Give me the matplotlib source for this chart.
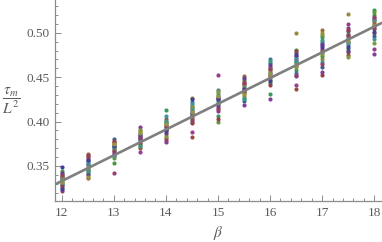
import colorsys
import numpy as np
import matplotlib
matplotlib.use('Agg')
import matplotlib.pyplot as plt
from matplotlib.ticker import MultipleLocator

# beta values (x positions of the columns)
beta = [12.0, 12.5, 13.0, 13.5, 14.0, 14.5, 15.0, 15.5, 16.0, 16.5, 17.0, 17.5, 18.0]

# tau_m / L^2 per beta, one value per sample (index = sample)
tau_12_0 = [0.349, 0.322, 0.335, 0.341, 0.328, 0.338, 0.331, 0.344, 0.325, 0.336,
            0.339, 0.333, 0.330, 0.342, 0.327, 0.337, 0.334, 0.324, 0.340, 0.332]
tau_12_5 = [0.352, 0.345, 0.361, 0.340, 0.356, 0.348, 0.364, 0.343, 0.351, 0.358,
            0.336, 0.347, 0.354, 0.341, 0.360, 0.349, 0.344, 0.357, 0.362, 0.338]
tau_13_0 = [0.372, 0.342, 0.376, 0.368, 0.380, 0.362, 0.374, 0.353, 0.370, 0.366,
            0.378, 0.359, 0.371, 0.364, 0.377, 0.369, 0.361, 0.373, 0.367, 0.375]
tau_13_5 = [0.382, 0.378, 0.390, 0.372, 0.386, 0.366, 0.384, 0.375, 0.380, 0.394,
            0.370, 0.388, 0.379, 0.383, 0.376, 0.391, 0.373, 0.385, 0.381, 0.387]
tau_14_0 = [0.392, 0.396, 0.385, 0.413, 0.400, 0.389, 0.381, 0.398, 0.394, 0.377,
            0.403, 0.390, 0.406, 0.387, 0.395, 0.383, 0.401, 0.391, 0.379, 0.397]
tau_14_5 = [0.410, 0.405, 0.427, 0.400, 0.415, 0.388, 0.418, 0.407, 0.422, 0.412,
            0.383, 0.403, 0.420, 0.409, 0.398, 0.416, 0.413, 0.425, 0.402, 0.411]
tau_15_0 = [0.425, 0.420, 0.432, 0.406, 0.428, 0.453, 0.415, 0.423, 0.436, 0.412,
            0.427, 0.400, 0.430, 0.418, 0.403, 0.434, 0.421, 0.426, 0.414, 0.429]
tau_15_5 = [0.435, 0.442, 0.429, 0.447, 0.423, 0.438, 0.451, 0.432, 0.440, 0.419,
            0.445, 0.436, 0.427, 0.449, 0.433, 0.441, 0.425, 0.437, 0.444, 0.431]
tau_16_0 = [0.455, 0.462, 0.447, 0.431, 0.466, 0.451, 0.458, 0.444, 0.471, 0.426,
            0.453, 0.460, 0.449, 0.464, 0.441, 0.456, 0.468, 0.446, 0.459, 0.452]
tau_16_5 = [0.468, 0.474, 0.500, 0.458, 0.477, 0.441, 0.463, 0.481, 0.455, 0.470,
            0.437, 0.466, 0.472, 0.451, 0.479, 0.461, 0.467, 0.475, 0.453, 0.464]
tau_17_0 = [0.478, 0.486, 0.470, 0.495, 0.462, 0.482, 0.503, 0.474, 0.490, 0.456,
            0.480, 0.498, 0.467, 0.487, 0.452, 0.476, 0.492, 0.484, 0.465, 0.500]
tau_17_5 = [0.490, 0.496, 0.521, 0.482, 0.502, 0.510, 0.478, 0.493, 0.486, 0.505,
            0.475, 0.499, 0.488, 0.480, 0.503, 0.473, 0.494, 0.484, 0.497, 0.491]
tau_18_0 = [0.508, 0.515, 0.500, 0.526, 0.496, 0.482, 0.512, 0.520, 0.504, 0.476,
            0.510, 0.523, 0.493, 0.517, 0.506, 0.489, 0.514, 0.501, 0.518, 0.509]

columns = [tau_12_0, tau_12_5, tau_13_0, tau_13_5, tau_14_0, tau_14_5, tau_15_0,
           tau_15_5, tau_16_0, tau_16_5, tau_17_0, tau_17_5, tau_18_0]

# linear fit
fit_slope = 0.029
fit_intercept = -0.015

x_ticks = [12, 13, 14, 15, 16, 17, 18]
y_ticks = [0.35, 0.40, 0.45, 0.50]

axis_color = '#8c8c8c'
label_color = '#5a5a5a'

plt.rcParams['mathtext.fontset'] = 'stix'

fig = plt.figure(figsize=(3.82, 2.42), dpi=100)
ax = fig.add_axes([55 / 382, 41 / 242, 327 / 382, 201 / 242])

# old mathematica default plot colours: golden-ratio hue steps
n_samples = len(tau_12_0)
colors = [colorsys.hsv_to_rgb((0.67 + i * 0.2360679775) % 1.0, 0.6, 0.6)
          for i in range(n_samples)]

for i in range(n_samples):
    ys = [col[i] for col in columns]
    ax.scatter(beta, ys, s=9, color=colors[i], linewidths=0, zorder=2)

xl = np.array([11.87, 18.15])
ax.plot(xl, fit_slope * xl + fit_intercept, color='#7f7f7f', lw=1.9, zorder=3,
        solid_capstyle='butt')

ax.set_xlim(11.87, 18.15)
ax.set_ylim(0.3105, 0.537)

ax.set_xticks(x_ticks)
ax.set_yticks(y_ticks)
ax.set_xticklabels([str(t) for t in x_ticks])
ax.set_yticklabels(['%.2f' % t for t in y_ticks])
ax.xaxis.set_minor_locator(MultipleLocator(0.2))
ax.yaxis.set_minor_locator(MultipleLocator(0.01))

for pos in ['top', 'right']:
    ax.spines[pos].set_visible(False)
for pos in ['bottom', 'left']:
    ax.spines[pos].set_color(axis_color)
    ax.spines[pos].set_linewidth(0.9)

ax.tick_params(which='both', direction='in', colors=axis_color, width=0.7,
               labelcolor=label_color, labelsize=9.5)
ax.tick_params(which='major', length=4, pad=4)
ax.tick_params(which='minor', length=2)
for lab in ax.get_xticklabels() + ax.get_yticklabels():
    lab.set_family('Liberation Serif')

ax.set_xlabel(r'$\beta$', fontsize=11, color=label_color, labelpad=4)
fig.text(11 / 382, 1 - 101 / 242, r'$\dfrac{\tau_m}{L^2}$', fontsize=11,
         color=label_color, ha='center', va='center')

fig.savefig('out.png', dpi=100)
